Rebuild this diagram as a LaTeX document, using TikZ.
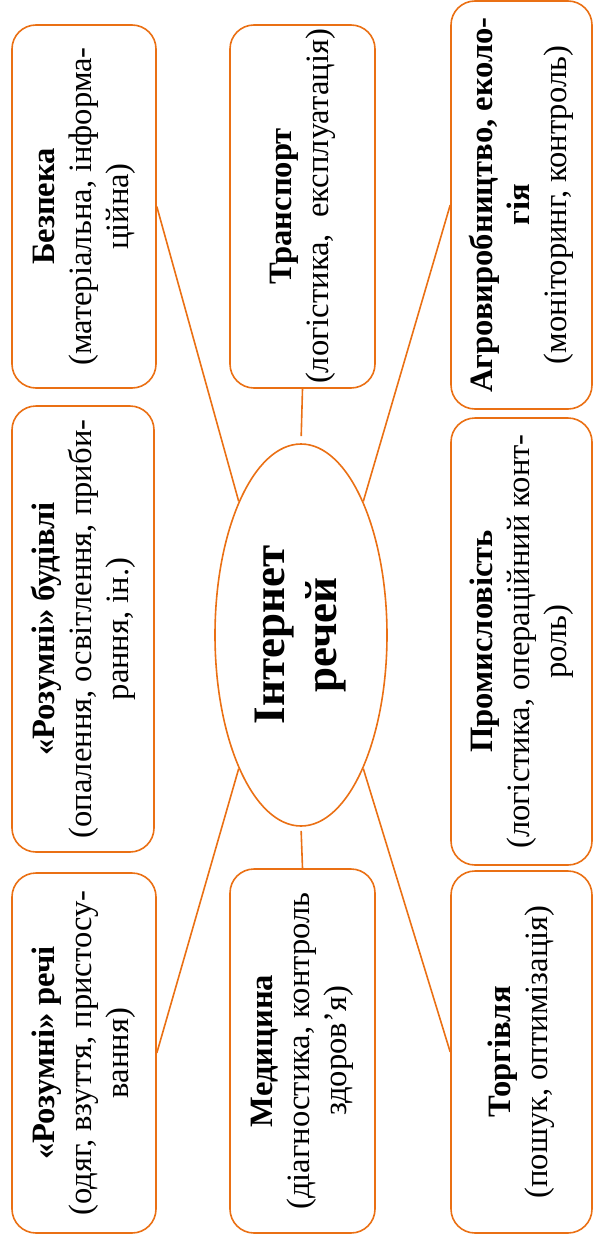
\documentclass[tikz,border=0pt]{standalone}
\usepackage{fontspec}
\setmainfont{Liberation Serif}
\usepackage{tikz}
\usetikzlibrary{shapes.geometric}
\definecolor{iotorange}{RGB}{234,112,20}

\tikzset{
  area/.style={draw=iotorange, line width=.8pt, rounded corners=12pt, rotate=90,
    align=center, inner sep=0pt, font=\fontsize{16.3}{18.5}\selectfont},
  hub/.style={ellipse, draw=iotorange, line width=.8pt, rotate=90, align=center,
    inner sep=0pt, font=\bfseries\fontsize{22.5}{26}\selectfont},
  link/.style={draw=iotorange, line width=.8pt}
}

\begin{document}
\begin{tikzpicture}[x=.5pt,y=-.5pt]
\useasboundingbox (0,0) rectangle (593,1242);
\node[hub, minimum width=191pt, minimum height=86pt] (iot) at (301,635) {Інтернет\\речей};
% top row
\node[area, minimum width=181.5pt, minimum height=72pt] (bez) at (84,206.5)
  {\textbf{Безпека}\\(матеріальна, інформа-\\ційна)};
\node[area, minimum width=181.5pt, minimum height=72.5pt] (trans) at (302.5,206.5)
  {\textbf{Транспорт}\\(логістика,\ \ експлуатація)};
\node[area, minimum width=204pt, minimum height=70.5pt] (agro) at (521.5,205)
  {\textbf{Агровиробництво, еколо-}\\\textbf{гія}\\(моніторинг, контроль)};
% middle row
\node[area, minimum width=223pt, minimum height=71pt] (build) at (83,629)
  {\textbf{«Розумні» будівлі}\\(опалення, освітлення, приби-\\рання, ін.)};
\node[area, minimum width=223.5pt, minimum height=70.5pt] (ind) at (521.5,641.5)
  {\textbf{Промисловість}\\(логістика, операційний конт-\\роль)};
% bottom row
\node[area, minimum width=180pt, minimum height=72pt] (things) at (84,1053)
  {\textbf{«Розумні» речі}\\(одяг, взуття, пристосу-\\вання)};
\node[area, minimum width=182pt, minimum height=72.5pt] (med) at (302.5,1051)
  {\textbf{Медицина}\\(діагностика, контроль\\здоров'я)};
\node[area, minimum width=181pt, minimum height=70.5pt] (trade) at (521.5,1052)
  {\textbf{Торгівля}\\(пошук, оптимізація)};
% links to the hub
\draw[link] (bez.south) -- (iot.25);
\draw[link, shorten >=3.5pt] (trans.west) -- (iot.east);
\draw[link] (agro.north) -- (iot.-25);
\draw[link] (things.south) -- (iot.155);
\draw[link, shorten <=2pt] (iot.west) -- (med.east);
\draw[link] (trade.north) -- (iot.205);
\end{tikzpicture}
\end{document}
